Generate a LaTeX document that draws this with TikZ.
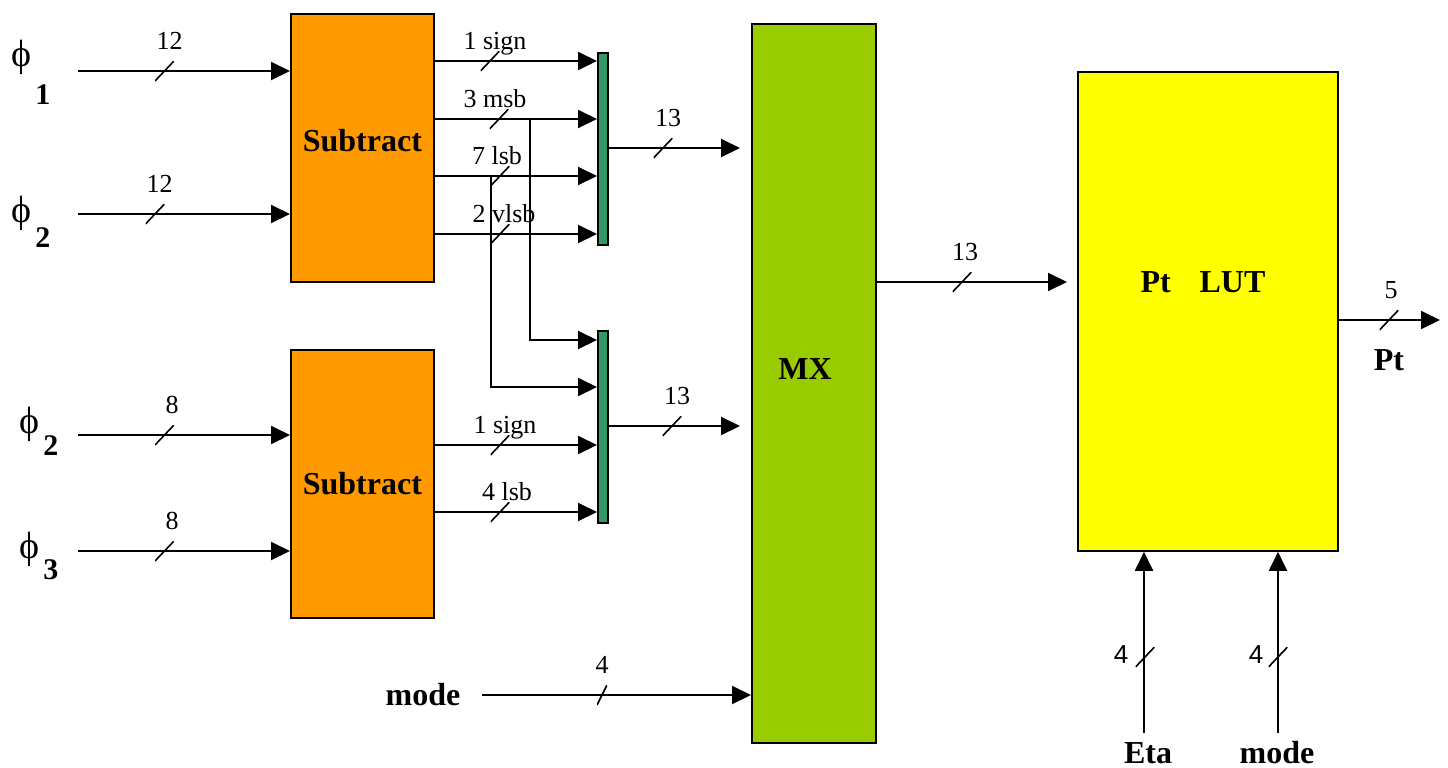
\documentclass[tikz,border=0pt]{standalone}
\usepackage{fontspec}
\setmainfont{Liberation Serif}
\setsansfont{Liberation Sans}
\usepackage{xcolor}
\usetikzlibrary{arrows.meta,positioning,calc}
\definecolor{suborange}{RGB}{255,153,0}
\definecolor{mxgreen}{RGB}{153,204,0}
\definecolor{lutyellow}{RGB}{255,255,0}
\definecolor{bargreen}{RGB}{51,153,102}
\newcommand{\phisub}[2]{ϕ\kern2pt\smash{\raisebox{-#2}{\fontsize{15}{17}\selectfont\bfseries #1}}}

\begin{document}
\begin{tikzpicture}[x=0.5pt, y=-0.5pt,
  blk/.style={draw, line width=0.9pt, anchor=north west, inner sep=0pt, font=\fontsize{16}{19}\selectfont\bfseries},
  subbox/.style={blk, fill=suborange, minimum width=71.5pt, minimum height=134pt},
  bar/.style={draw, line width=0.8pt, anchor=north west, inner sep=0pt, fill=bargreen, minimum width=5pt, minimum height=96pt},
  arr/.style={-{Triangle[length=9.5pt, width=9pt]}, line width=1pt},
  tick/.style={inner sep=0pt, minimum width=9.5pt, minimum height=10pt,
    path picture={\draw[line width=0.8pt] (path picture bounding box.south west) -- (path picture bounding box.north east);}},
  steeptick/.style={tick, minimum width=5pt},
  bits/.style={font=\fontsize{13}{15}\selectfont, inner sep=0pt, anchor=base},
  sbits/.style={bits, font=\fontsize{13}{15}\selectfont\sffamily},
  sig/.style={font=\fontsize{16}{19}\selectfont\bfseries, inner sep=0pt, anchor=base},
  philab/.style={font=\fontsize{19}{22}\selectfont, inner sep=0pt, anchor=base west}]
\useasboundingbox (0,0) rectangle (1448,767);

% blocks
\node[subbox] (sub1) at (290,13) {\raisebox{8pt}{Subtract}};
\node[subbox] (sub2) at (290,349) {Subtract};
\node[bar] (bar1) at (597,52) {};
\node[bar] (bar2) at (597,330) {};
\node[blk, fill=mxgreen, minimum width=62pt, minimum height=359.5pt] (mx) at (751,23) {};
\node[sig] (mxtxt) at (805,379) {MX};
\node[blk, fill=lutyellow, minimum width=130pt, minimum height=239.5pt] (lut) at (1077,71) {};
\node[sig] (luttxt) at (1203,292) {Pt\hspace{0.9em}LUT};

% phi inputs
\node[philab] (phi1) at (11,66) {\phisub{1}{19pt}};
\node[philab] (phi2) at (11,222) {\phisub{2}{12.5pt}};
\node[philab] (phi2b) at (19,433) {\phisub{2}{11pt}};
\node[philab] (phi3) at (19,558) {\phisub{3}{10.5pt}};
\foreach \yy/\tx/\lx/\txt/\blk [count=\i] in
  {71/164.5/169.5/12/sub1, 214/155/159.5/12/sub1, 435/164.5/172/8/sub2, 551/164.5/172/8/sub2} {
  \coordinate (in\i) at (78,\yy);
  \draw[arr] (in\i) -- (in\i -| \blk.west);
  \node[tick] (ti\i) at (\tx,\yy) {};
  \node[bits] (li\i) at (\lx,\yy-22) {\txt};
}

% split of the first difference
\foreach \yy/\tx/\lx/\txt [count=\i] in
  {61/490/495/1 sign, 119/499/495/3 msb, 176/500/497/7 lsb, 234/500/504/2 vlsb} {
  \draw[arr] (sub1.east |- 0,\yy) -- (bar1.west |- 0,\yy);
  \node[tick] (ta\i) at (\tx,\yy) {};
  \node[bits] (la\i) at (\lx,\yy-12) {\txt};
}
\coordinate (br1) at (530,119);
\coordinate (br2) at (491,176);
\draw[arr] (br1) |- (bar2.west |- 0,340);
\draw[arr] (br2) |- (bar2.west |- 0,387);

% second difference
\foreach \yy/\tx/\lx/\txt [count=\i] in {445/500/505/1 sign, 512/500/507/4 lsb} {
  \draw[arr] (sub2.east |- 0,\yy) -- (bar2.west |- 0,\yy);
  \node[tick] (tb\i) at (\tx,\yy) {};
  \node[bits] (lb\i) at (\lx,\yy-11.5) {\txt};
}

% into MX
\coordinate (mxin1) at (740,148);
\coordinate (mxin2) at (740,426);
\draw[arr] (bar1.east |- mxin1) -- (mxin1);
\node[tick] (tm1) at (663,148) {};
\node[bits] (lm1) at (668,126) {13};
\draw[arr] (bar2.east |- mxin2) -- (mxin2);
\node[tick] (tm2) at (672,426) {};
\node[bits] (lm2) at (677,404) {13};
\node[sig] (mode1) at (423,705) {mode};
\coordinate (modein) at (482,695);
\draw[arr] (modein) -- (modein -| mx.west);
\node[steeptick] (tmode) at (602,695) {};
\node[bits] (lmode) at (602,673) {4};

% MX to LUT
\coordinate (lutin) at (1067,282);
\draw[arr] (mx.east |- lutin) -- (lutin);
\node[tick] (tl) at (962,282) {};
\node[bits] (ll) at (965,260) {13};

% LUT output
\coordinate (ptout) at (1440,320);
\draw[arr] (lut.east |- ptout) -- (ptout);
\node[tick] (tp) at (1389,320) {};
\node[bits] (lp) at (1391,298) {5};
\node[sig] (pt) at (1389,370) {Pt};

% LUT side inputs
\coordinate (etain) at (1144,733);
\coordinate (modein2) at (1278,733);
\draw[arr] (etain) -- (etain |- lut.south);
\draw[arr] (modein2) -- (modein2 |- lut.south);
\node[tick] (te) at (1145,657) {};
\node[tick] (tmode2) at (1278,657) {};
\node[sbits] (le) at (1121,663) {4};
\node[sbits] (lmode2) at (1256,663) {4};
\node[sig] (eta) at (1148,763) {Eta};
\node[sig] (mode2) at (1277,763) {mode};
\end{tikzpicture}
\end{document}
